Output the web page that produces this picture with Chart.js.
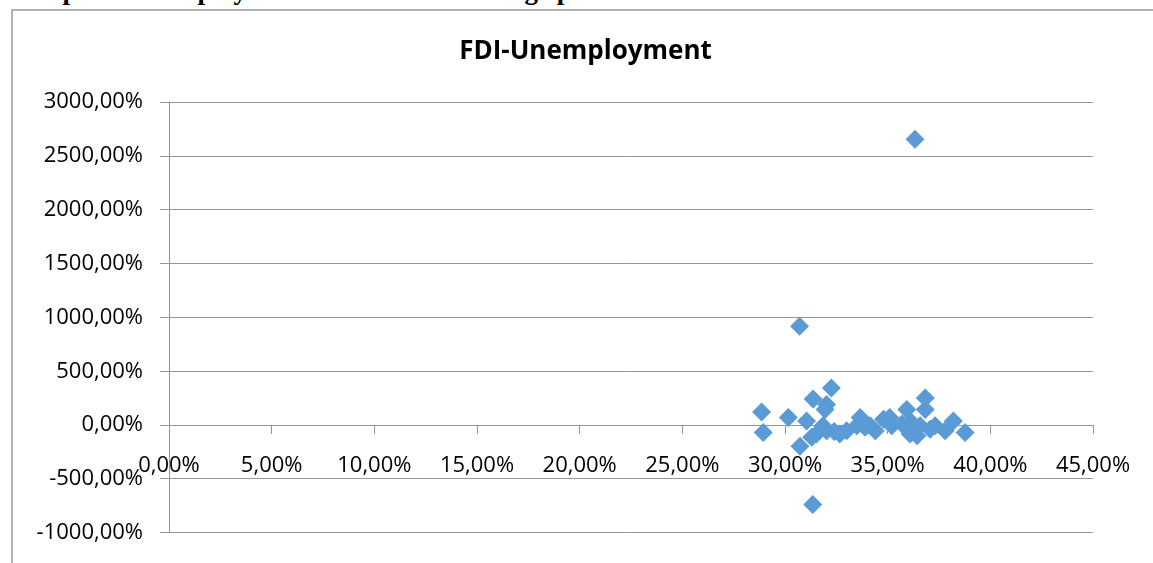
<!DOCTYPE html>
<html>
<head>
<meta charset="utf-8">
<title>FDI-Unemployment</title>
<script src="https://cdn.jsdelivr.net/npm/chart.js@4/dist/chart.umd.min.js"></script>
<style>
  html, body { margin: 0; padding: 0; background: #fff; overflow: hidden; }
  #page { position: relative; width: 1153px; height: 563px; overflow: hidden; }
  #caption {
    position: absolute; left: 16px; top: -23px;
    font: bold 27px/27px "Liberation Serif", "Times New Roman", serif;
    white-space: nowrap; color: #000;
  }
  #frame {
    position: absolute; left: 11px; top: 9px; width: 1200px; height: 600px;
    border-top: 2px solid #b0b0b0; border-left: 2px solid #b0b0b0;
  }
  #plot { position: absolute; left: 0; top: 0; }
</style>
</head>
<body>
<div id="page">
  <div id="caption">Graph 4: Unemployment rate and FDI change plot</div>
  <div id="frame"></div>
  <canvas id="plot" width="1153" height="563"></canvas>
</div>
<script>
// unemployment rate (%) and FDI change (%) for each observation
var unemployment = [28.86, 28.94, 30.16, 30.71, 30.73, 31.05, 31.37, 31.35, 31.95, 32.02,
                    32.26, 31.85, 31.53, 31.30, 32.03, 32.67, 33.00, 33.50, 33.66, 34.15,
                    34.40, 34.80, 35.10, 35.20, 35.93, 36.17, 36.09, 36.33, 36.43, 36.58,
                    36.83, 36.83, 37.07, 37.31, 37.80, 38.20, 38.77, 35.70, 33.90, 32.40];
var fdiChange = [122, -68, 70, 918, -196, 39, 243, -737, 146, 192,
                 344, -6, -82, -113, -52, -82, -52, -6, 70, -6,
                 -52, 55, 70, -6, 146, 24, -82, 2656, -98, -6,
                 253, 146, -37, -6, -52, 39, -68, 10, -20, -60];

var xRange = [0, 45], xStep = 5;
var yRange = [-1000, 3000], yStep = 500;

var gridColor = '#969696',
    markerColor = '#5b9bd5';

function pct(v) {
    return Number(v).toFixed(2).replace('.', ',') + '%';
}

var points = [];
for (var i = 0; i < unemployment.length; i++) {
    points.push({ x: unemployment[i], y: fdiChange[i] });
}

Chart.defaults.font.family = '"Open Sans", sans-serif';
Chart.defaults.color = '#000';

var ctx = document.getElementById('plot').getContext('2d');
var chart = new Chart(ctx, {
    type: 'scatter',
    data: {
        datasets: [{
            label: 'FDI-Unemployment',
            data: points,
            pointStyle: 'rectRot',
            pointRadius: 9.5,
            pointHoverRadius: 9.5,
            backgroundColor: markerColor,
            borderColor: markerColor,
            borderWidth: 0
        }]
    },
    options: {
        responsive: false,
        animation: false,
        devicePixelRatio: 1,
        layout: { padding: { left: 18, right: 0, top: 0, bottom: 25 } },
        plugins: {
            legend: { display: false },
            tooltip: { enabled: false },
            title: {
                display: true,
                text: 'FDI-Unemployment',
                color: '#000',
                font: { size: 26, weight: 'bold' },
                padding: { top: 36, bottom: 35 }
            }
        },
        scales: {
            x: {
                type: 'linear',
                position: { y: 0 },
                min: xRange[0],
                max: xRange[1],
                ticks: {
                    stepSize: xStep,
                    autoSkip: false,
                    maxRotation: 0,
                    padding: 19,
                    font: { size: 22 },
                    callback: pct
                },
                grid: { drawOnChartArea: false, drawTicks: true, tickLength: 8, color: gridColor },
                border: { color: gridColor }
            },
            y: {
                min: yRange[0],
                max: yRange[1],
                ticks: {
                    stepSize: yStep,
                    padding: 17,
                    font: { size: 22 },
                    callback: pct
                },
                grid: { color: gridColor, tickLength: 9 },
                border: { color: gridColor },
                afterFit: function (scale) { scale.width = 151; }
            },
            // empty right-hand margin of the plot
            yRight: {
                position: 'right',
                ticks: { display: false },
                grid: { display: false },
                border: { display: false },
                afterFit: function (scale) { scale.width = 60; }
            }
        }
    }
});
</script>
</body>
</html>
